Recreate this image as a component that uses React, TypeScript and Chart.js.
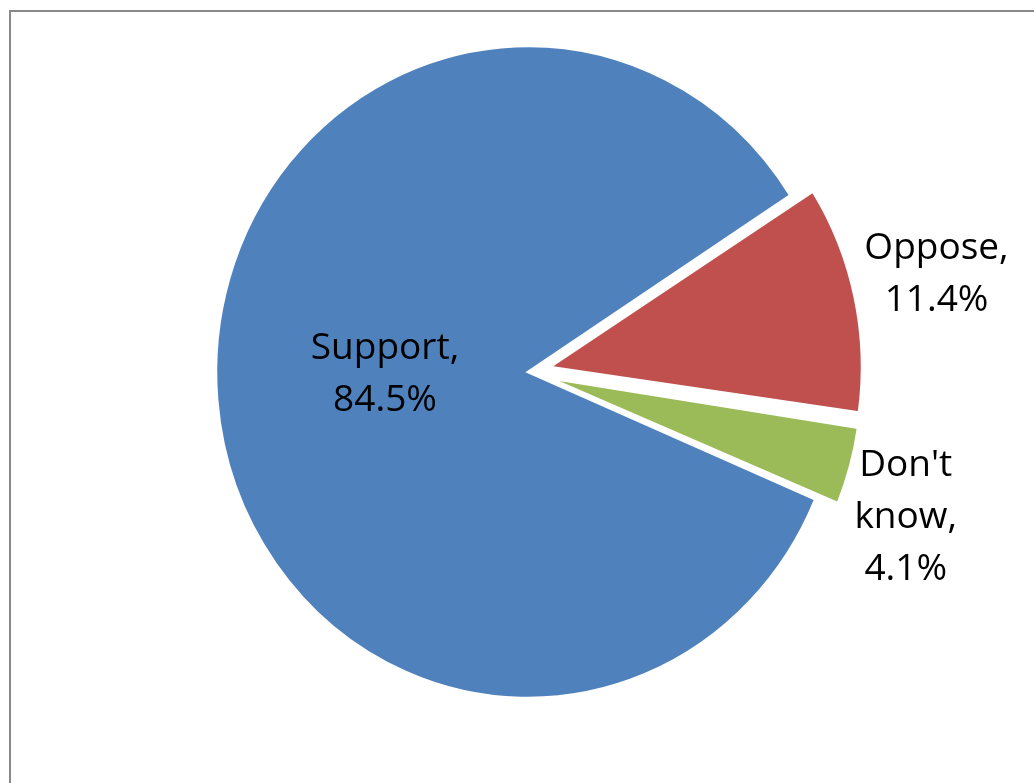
import React, { useEffect, useRef } from "react";
import { Chart, registerables } from "chart.js";

Chart.register(...registerables);

const categories = ["Support", "Oppose", "Don't know"];
const values = [84.5, 11.4, 4.1];
const labelLines = [["Support,", "84.5%"], ["Oppose,", "11.4%"], ["Don't", "know,", "4.1%"]];
const colors = ["#4F81BD", "#C0504D", "#9BBB59"];
const explode = [0, 90, 90];

const W = 1034;
const H = 783;
const Y_STRETCH = 1.045;

const framePlugin = {
  id: "frame",
  beforeDraw(chart: any) {
    const ctx = chart.ctx;
    ctx.save();
    ctx.fillStyle = "#ffffff";
    ctx.fillRect(0, 0, chart.width, chart.height);
    ctx.strokeStyle = "#898989";
    ctx.lineWidth = 2;
    ctx.strokeRect(10, 11, 2000, 2000);
    ctx.restore();
  },
};

// keep exploded slices at the same radius as the rest of the pie
const keepRadiusPlugin = {
  id: "keepRadius",
  afterDatasetUpdate(chart: any, args: any) {
    const meta = args.meta;
    meta.data.forEach((arc: any) => {
      const off = ((arc.options && arc.options.offset) || 0) / 4;
      const circ = arc.endAngle - arc.startAngle;
      const fix = 1 - Math.sin(Math.min(Math.PI, circ || 0));
      arc.outerRadius = arc.outerRadius - off * fix;
    });
  },
};

const stretchPlugin = {
  id: "stretch",
  beforeDatasetsDraw(chart: any) {
    const arc = chart.getDatasetMeta(0).data[0];
    const ctx = chart.ctx;
    ctx.save();
    ctx.translate(arc.x, arc.y);
    ctx.scale(1, Y_STRETCH);
    ctx.translate(-arc.x, -arc.y);
  },
  afterDatasetsDraw(chart: any) {
    chart.ctx.restore();
  },
};

const labelPlacement = [
  { r: 0.46, dx: 0, dy: -10 },
  { r: 1.34, dx: 0, dy: -5 },
  { r: 1.257, dx: 0, dy: 35 },
];

const labelPlugin = {
  id: "sliceLabels",
  afterDatasetsDraw(chart: any) {
    const meta = chart.getDatasetMeta(0);
    const ctx = chart.ctx;
    ctx.save();
    ctx.fillStyle = "#000000";
    ctx.font = "37px 'Open Sans'";
    ctx.textAlign = "center";
    ctx.textBaseline = "middle";
    const lineH = 52;
    const R = meta.data[0].outerRadius;
    meta.data.forEach((arc: any, i: number) => {
      const mid = (arc.startAngle + arc.endAngle) / 2;
      const p = labelPlacement[i];
      const cx = arc.x + Math.cos(mid) * R * p.r + p.dx;
      const cy = arc.y + Math.sin(mid) * R * p.r * Y_STRETCH + p.dy;
      const lines = labelLines[i];
      const top = cy - ((lines.length - 1) * lineH) / 2;
      lines.forEach((t, k) => ctx.fillText(t, cx, top + k * lineH));
    });
    ctx.restore();
  },
};

export default function App() {
  const ref = useRef<HTMLCanvasElement | null>(null);
  useEffect(() => {
    if (!ref.current) return;
    const chart = new Chart(ref.current, {
      type: "pie",
      data: {
        labels: categories,
        datasets: [
          {
            data: values,
            backgroundColor: colors,
            borderColor: "#ffffff",
            borderWidth: 2.5,
            borderJoinStyle: "miter",
            offset: explode,
            clip: false,
          } as any,
        ],
      },
      options: {
        responsive: false,
        animation: false,
        devicePixelRatio: 1,
        rotation: 113,
        radius: 312,
        layout: { padding: { left: 22, right: 0, top: 0, bottom: 39 } },
        plugins: {
          legend: { display: false },
          tooltip: { enabled: false },
          title: { display: false },
        },
      },
      plugins: [framePlugin, keepRadiusPlugin, stretchPlugin, labelPlugin],
    });
    return () => chart.destroy();
  }, []);
  return (
    <div style={{ position: "fixed", left: 0, top: 0, width: W, height: H, background: "#fff" }}>
      <canvas ref={ref} width={W} height={H} style={{ display: "block" }} />
    </div>
  );
}
